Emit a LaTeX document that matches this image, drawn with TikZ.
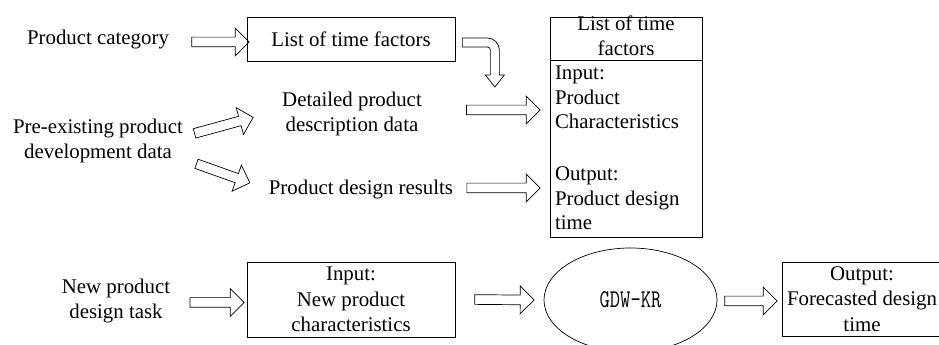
\documentclass[tikz,border=0pt]{standalone}
\usepackage{fontspec}
\setmainfont{Liberation Serif}
\usetikzlibrary{shapes.geometric,shapes.arrows,calc}

\tikzset{
  txt/.style={inner sep=0pt, align=center},
  box/.style={draw, inner sep=0pt, align=center},
  fat/.style={single arrow, draw, inner xsep=0pt, inner ysep=0.135cm,
    single arrow head extend=0.27cm, single arrow tip angle=90,
    minimum width=0pt}
}
\newcommand{\fatarrow}[2]{%
  \path let \p1=(#1), \p2=(#2), \n1={veclen(\x2-\x1,\y2-\y1)} in
    (\p1) -- (\p2) node[fat, midway, sloped, minimum height=\n1] {};}

\begin{document}
\begin{tikzpicture}[x=0.03cm, y=-0.03cm, line width=0.6pt,
  every node/.style={font=\fontsize{17.8}{22}\selectfont}]
  \useasboundingbox (0,0) rectangle (939,345);

  \node[txt] (cat) at (98,40) {Product category};
  \node[box, minimum width=6.24cm, minimum height=1.32cm] (lst) at (351,39) {List of time factors};
  \node[txt] (old) at (98,141) {Pre-existing product\\development data};
  \node[txt] (desc) at (352,114) {Detailed product\\description data};
  \node[txt] (res) at (361,190) {Product design results};

  \node[box, minimum width=4.56cm, minimum height=6.6cm] (tbl) at (626,127) {};
  \node[txt, font=\fontsize{17.8}{20.9}\selectfont] (tblhead) at (626,36) {List of time\\factors};
  \draw ($(tbl.north west)+(0,44)$) -- ($(tbl.north east)+(0,44)$);
  \node[txt, align=left, anchor=north west, font=\fontsize{17.8}{20.9}\selectfont]
    (tblbody) at ($(tbl.north west)+(5,49)$)
    {Input:\\Product\\Characteristics\\[23.5pt]Output:\\Product design\\time};

  \node[txt] (task) at (116,301) {New product\\design task};
  \node[box, minimum width=6.24cm, minimum height=2.25cm] (inbox) at (351,299.5)
    {Input:\\New product\\characteristics};
  \node[draw, ellipse, inner sep=0pt, minimum width=5.19cm, minimum height=3.12cm,
    font=\ttfamily\fontsize{21.8}{24}\selectfont] (model) at (630.5,300)
    {\scalebox{0.78}[1]{GDW-KR}};
  \node[box, minimum width=4.8cm, minimum height=2.22cm] (outbox) at (862,299)
    {Output:\\Forecasted design\\time};

  \fatarrow{$(cat.east)+(20,2)$}{$(lst.west)+(0,3)$}
  \fatarrow{$(old.east)+(9,-7)$}{$(desc.west)+(-31,4)$}
  \fatarrow{$(old.east)+(11,22)$}{$(res.west)+(-21,-8)$}
  \fatarrow{$(desc.east)+(42,-4)$}{$(tbl.west)+(-12,-17)$}
  \fatarrow{$(res.east)+(11,-2)$}{$(tbl.west)+(-12,61)$}
  \fatarrow{$(task.east)+(17,1.5)$}{$(inbox.west)+(-5,3)$}
  \fatarrow{$(inbox.east)+(17,0)$}{$(model.west)+(-12,0)$}
  \fatarrow{$(model.east)+(5,1)$}{$(outbox.west)+(-7,2)$}

  \draw[shift={($(lst.east)+(7,-1)$)}] (0,0) -- (25,0)
    .. controls (31.6,0) and (37,5.4) .. (37,12) -- (37,37) -- (42,37)
    -- (32.5,49) -- (23,37) -- (28,37) -- (28,12)
    .. controls (28,10.3) and (26.7,9) .. (25,9) -- (0,9) -- cycle;
\end{tikzpicture}
\end{document}
